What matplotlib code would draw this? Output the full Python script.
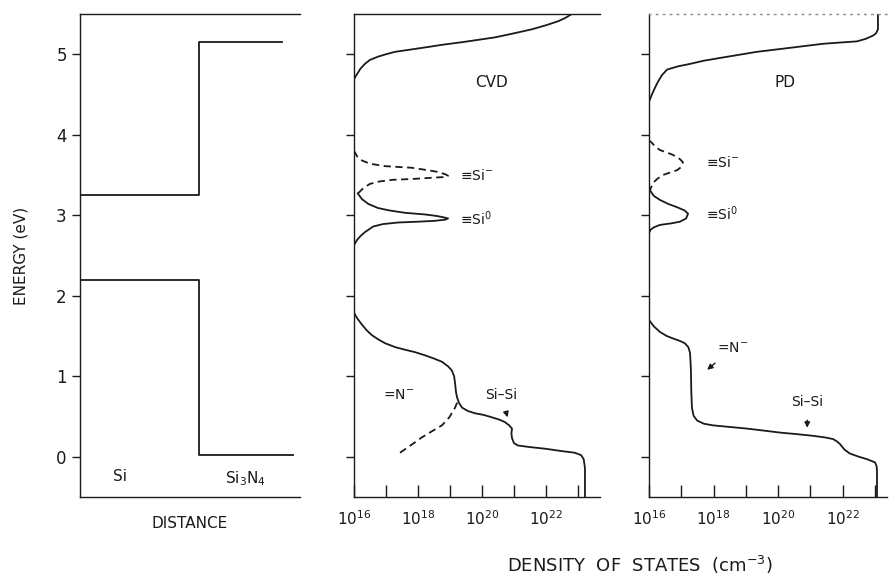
import numpy as np
import matplotlib.pyplot as plt

# band diagram (distance in arbitrary units, energy in eV)
si_cb_x = [0.0, 0.54, 0.54, 0.92]
si_cb_e = [3.25, 3.25, 5.15, 5.15]
si_vb_x = [0.0, 0.54, 0.54, 0.97]
si_vb_e = [2.2, 2.2, 0.02, 0.02]

# CVD density of states: log10(N / cm^-3) and energy (eV)
cvd_cb_log = [22.81, 22.6, 22.38, 22.0, 21.56, 21.0, 20.41, 19.9, 19.38, 18.8, 18.31,
              17.8, 17.28, 17.0, 16.75, 16.5, 16.34, 16.2, 16.09, 16.0]
cvd_cb_e = [5.5, 5.45, 5.41, 5.36, 5.31, 5.26, 5.21, 5.18, 5.15, 5.12, 5.09,
            5.06, 5.03, 5.0, 4.97, 4.93, 4.88, 4.82, 4.75, 4.69]

cvd_sim_log = [16.0, 16.1, 16.25, 16.5, 16.97, 17.8, 18.3, 18.6, 18.85, 18.94,
               18.85, 18.6, 17.8, 17.2, 16.8, 16.5, 16.3, 16.12]
cvd_sim_e = [3.8, 3.73, 3.68, 3.64, 3.61, 3.59, 3.56, 3.54, 3.51, 3.49,
             3.475, 3.47, 3.45, 3.44, 3.42, 3.39, 3.34, 3.27]

cvd_si0_log = [16.12, 16.25, 16.45, 16.75, 17.1, 17.6, 18.22, 18.6, 18.85, 18.94,
               18.85, 18.5, 18.0, 17.38, 16.9, 16.6, 16.34, 16.2, 16.09, 16.0]
cvd_si0_e = [3.27, 3.2, 3.14, 3.09, 3.06, 3.03, 3.01, 2.99, 2.97, 2.96,
             2.945, 2.93, 2.92, 2.91, 2.89, 2.86, 2.79, 2.74, 2.69, 2.63]

cvd_vb_log = [16.0, 16.1, 16.25, 16.4, 16.56, 16.75, 16.97, 17.3, 17.59, 17.9, 18.22,
              18.5, 18.75, 18.95, 19.06, 19.13, 19.16, 19.19, 19.22, 19.28, 19.38,
              19.55, 19.78, 20.05, 20.31, 20.55, 20.72, 20.85, 20.94, 20.92, 20.94,
              21.0, 21.12, 21.5, 21.97, 22.5, 22.9, 23.1, 23.18, 23.22, 23.22]
cvd_vb_e = [1.79, 1.72, 1.64, 1.57, 1.51, 1.46, 1.41, 1.36, 1.33, 1.3, 1.26,
            1.22, 1.18, 1.12, 1.07, 1.0, 0.91, 0.8, 0.74, 0.67, 0.61,
            0.57, 0.54, 0.52, 0.49, 0.46, 0.43, 0.39, 0.35, 0.29, 0.23,
            0.17, 0.14, 0.12, 0.10, 0.07, 0.05, 0.02, -0.03, -0.14, -0.5]

cvd_n_log = [17.44, 17.8, 18.12, 18.45, 18.75, 18.98, 19.16, 19.25]
cvd_n_e = [0.05, 0.15, 0.24, 0.32, 0.39, 0.49, 0.61, 0.70]

# PD density of states
pd_cb_log = [23.09, 23.09, 23.03, 22.93, 22.7, 22.44, 21.9, 21.39, 20.37, 19.34, 18.29,
             17.7, 17.27, 16.9, 16.56, 16.4, 16.28, 16.18, 16.09, 16.0]
pd_cb_e = [5.5, 5.31, 5.26, 5.23, 5.19, 5.16, 5.145, 5.13, 5.08, 5.03, 4.96,
           4.92, 4.88, 4.85, 4.81, 4.74, 4.66, 4.58, 4.5, 4.41]

pd_sim_log = [16.0, 16.09, 16.2, 16.34, 16.55, 16.74, 16.95, 17.05, 17.0, 16.87,
              16.65, 16.43, 16.25, 16.12, 16.03]
pd_sim_e = [3.93, 3.9, 3.85, 3.81, 3.78, 3.75, 3.7, 3.66, 3.6, 3.56,
            3.53, 3.5, 3.45, 3.4, 3.31]

pd_si0_log = [16.03, 16.15, 16.34, 16.6, 16.87, 17.1, 17.21, 17.15, 16.96, 16.7,
              16.34, 16.15, 16.05, 16.0]
pd_si0_e = [3.31, 3.24, 3.19, 3.14, 3.1, 3.06, 3.02, 2.96, 2.92, 2.9,
            2.88, 2.85, 2.82, 2.78]

pd_vb_log = [16.0, 16.15, 16.34, 16.55, 16.74, 16.95, 17.11, 17.22, 17.27, 17.29, 17.3,
             17.31, 17.33, 17.38, 17.49, 17.7, 17.98, 18.5, 19.03, 19.55, 20.06,
             20.6, 21.08, 21.45, 21.7, 21.82, 21.91, 22.05, 22.22, 22.5, 22.75,
             23.0, 23.05, 23.06, 23.06]
pd_vb_e = [1.7, 1.62, 1.55, 1.5, 1.47, 1.44, 1.41, 1.36, 1.29, 1.15, 1.04,
           0.8, 0.61, 0.51, 0.45, 0.41, 0.39, 0.37, 0.35, 0.325, 0.30,
           0.28, 0.26, 0.24, 0.22, 0.19, 0.16, 0.09, 0.04, 0.0, -0.03,
           -0.07, -0.12, -0.18, -0.5]

dec_ticks = [16, 17, 18, 19, 20, 21, 22, 23]
dec_labels = ['$10^{16}$', '', '$10^{18}$', '', '$10^{20}$', '', '$10^{22}$', '']
e_ticks = [0, 1, 2, 3, 4, 5]

ink = '#1a1a1a'
lw = 1.3
plt.rcParams['font.size'] = 11
plt.rcParams['lines.solid_joinstyle'] = 'round'
plt.rcParams['lines.dash_joinstyle'] = 'round'

fig = plt.figure(figsize=(8.89, 5.79), dpi=100)
W, H = 889, 579


def add_axes(x0, x1, y0=14, y1=497):
    return fig.add_axes([x0 / W, 1 - y1 / H, (x1 - x0) / W, (y1 - y0) / H])


def style_frame(ax):
    ax.spines['right'].set_visible(False)
    for s in ['left', 'top', 'bottom']:
        ax.spines[s].set_color(ink)
        ax.spines[s].set_linewidth(1.0)
    ax.set_ylim(-0.5, 5.5)
    ax.set_yticks(e_ticks)
    ax.tick_params(axis='y', direction='out', length=6, width=1.0, color=ink)


# band diagram
ax0 = add_axes(80, 300)
style_frame(ax0)
ax0.set_xlim(0, 1)
ax0.set_xticks([])
ax0.plot(si_cb_x, si_cb_e, color=ink, lw=lw)
ax0.plot(si_vb_x, si_vb_e, color=ink, lw=lw)
ax0.text(0.18, -0.25, 'Si', ha='center', va='center', color=ink)
ax0.text(0.75, -0.27, 'Si$_3$N$_4$', ha='center', va='center', color=ink)
ax0.set_xlabel('DISTANCE', labelpad=14, color=ink)
ax0.set_ylabel('ENERGY (eV)', labelpad=20, color=ink)
ax0.tick_params(axis='y', labelsize=12, labelcolor=ink)


def dos_axes(x0, x1, xmax):
    ax = add_axes(x0, x1)
    style_frame(ax)
    ax.set_xscale('log')
    ax.set_xlim(1e16, 10 ** xmax)
    ax.set_xticks([10.0 ** d for d in dec_ticks])
    ax.set_xticklabels(dec_labels)
    ax.minorticks_off()
    ax.tick_params(axis='x', direction='in', length=9, width=1.0, color=ink,
                   pad=9, labelsize=11, labelcolor=ink)
    ax.set_yticklabels([])
    return ax


def plot_log(ax, logs, energies, **kw):
    ax.plot(10.0 ** np.array(logs), energies, color=ink, lw=lw, **kw)


# CVD panel
ax1 = dos_axes(354, 600, 23.69)
plot_log(ax1, cvd_cb_log, cvd_cb_e)
plot_log(ax1, cvd_sim_log, cvd_sim_e, ls=(0, (4, 2.5)))
plot_log(ax1, cvd_si0_log, cvd_si0_e)
plot_log(ax1, cvd_vb_log, cvd_vb_e)
plot_log(ax1, cvd_n_log, cvd_n_e, ls=(0, (4, 2.5)))
ax1.text(10 ** 20.3, 4.65, 'CVD', ha='center', va='center', color=ink)
ax1.text(10 ** 19.3, 3.5, '≡Si$^{-}$', ha='left', va='center', color=ink, fontsize=10)
ax1.text(10 ** 19.3, 2.96, '≡Si$^{0}$', ha='left', va='center', color=ink, fontsize=10)
ax1.text(10 ** 16.9, 0.77, '=N$^{-}$', ha='left', va='center', color=ink, fontsize=10)
ax1.annotate('Si–Si', xy=(10 ** 20.8, 0.49), xytext=(10 ** 20.6, 0.77),
             ha='center', va='center', color=ink, fontsize=10,
             arrowprops=dict(arrowstyle='-|>', color=ink, lw=1.0, shrinkA=6, shrinkB=0,
                             mutation_scale=8))

# PD panel
ax2 = dos_axes(649, 887, 23.37)
ax2.spines['top'].set_linestyle((0, (1, 4)))
ax2.spines['top'].set_color('#888888')
plot_log(ax2, pd_cb_log, pd_cb_e)
plot_log(ax2, pd_sim_log, pd_sim_e, ls=(0, (4, 2.5)))
plot_log(ax2, pd_si0_log, pd_si0_e)
plot_log(ax2, pd_vb_log, pd_vb_e)
ax2.text(10 ** 20.2, 4.65, 'PD', ha='center', va='center', color=ink)
ax2.text(10 ** 17.75, 3.65, '≡Si$^{-}$', ha='left', va='center', color=ink, fontsize=10)
ax2.text(10 ** 17.75, 3.02, '≡Si$^{0}$', ha='left', va='center', color=ink, fontsize=10)
ax2.annotate('=N$^{-}$', xy=(10 ** 17.8, 1.08), xytext=(10 ** 18.6, 1.35),
             ha='center', va='center', color=ink, fontsize=10,
             arrowprops=dict(arrowstyle='-|>', color=ink, lw=1.0, shrinkA=6, shrinkB=0,
                             mutation_scale=8))
ax2.annotate('Si–Si', xy=(10 ** 20.9, 0.36), xytext=(10 ** 20.9, 0.68),
             ha='center', va='center', color=ink, fontsize=10,
             arrowprops=dict(arrowstyle='-|>', color=ink, lw=1.0, shrinkA=6, shrinkB=0,
                             mutation_scale=8))

fig.text(640 / W, 1 - 565 / H, 'DENSITY  OF  STATES  (cm$^{-3}$)', ha='center', va='center',
         color=ink, fontsize=13)

fig.savefig('out.png', dpi=100, facecolor='white')
